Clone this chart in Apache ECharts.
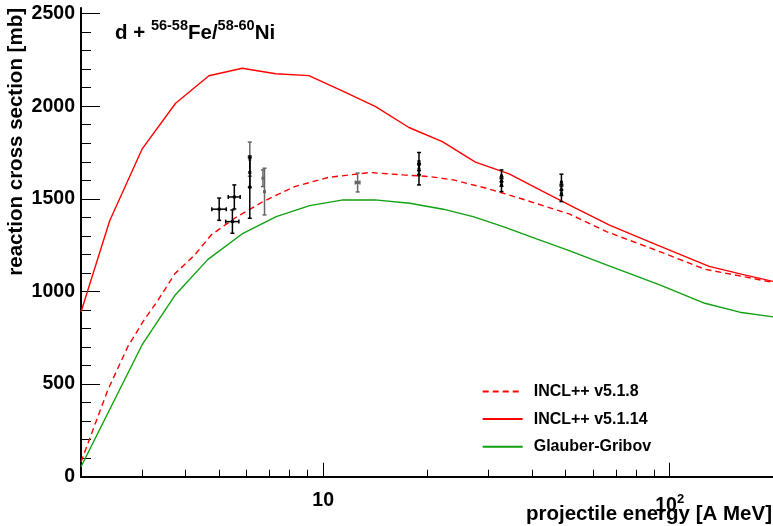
<!DOCTYPE html>
<html><head><meta charset="utf-8">
<script src="https://cdn.jsdelivr.net/npm/echarts@6/dist/echarts.min.js"></script>
<style>html,body{margin:0;padding:0;background:#fff}#c{width:773px;height:526px}</style>
</head><body><div id="c"></div>
<script>
const FONT = '"Liberation Sans", Arial, Helvetica, sans-serif';

// INCL++ v5.1.14 (solid red): projectile energy [A MeV], cross section [mb]
const incl14E  = [2.0, 2.42, 3.0, 3.75, 4.68, 5.84, 7.29, 9.09, 11.35, 14.17, 17.68, 22.07, 27.5, 34.4, 42.9, 53.5, 66.8, 83.4, 104, 130, 162, 200];
const incl14XS = [889, 1382, 1768, 2016, 2164, 2205, 2175, 2165, 2083, 1998, 1885, 1809, 1698, 1635, 1542, 1450, 1359, 1284, 1210, 1135, 1092, 1053];

// INCL++ v5.1.8 (dashed red)
const incl8E  = [2.0, 2.39, 2.73, 3.02, 3.34, 3.73, 4.26, 4.75, 5.55, 6.70, 8.27, 10.32, 13.64, 17.01, 20.32, 23.72, 29.61, 36.95, 51.5, 65.7, 93.6, 126.3, 200];
const incl8XS = [79, 468, 702, 837, 954, 1095, 1197, 1305, 1395, 1485, 1566, 1615, 1642, 1629, 1620, 1602, 1557, 1503, 1417, 1323, 1215, 1120, 1048];

// Glauber-Gribov (green)
const ggE  = [2.0, 3.0, 3.73, 4.65, 5.87, 7.32, 9.14, 11.42, 14.1, 17.79, 22.19, 27.09, 33.06, 41.28, 51.5, 65.7, 93.6, 126.3, 159.3, 200];
const ggXS = [54, 711, 978, 1173, 1314, 1404, 1463, 1494, 1494, 1476, 1444, 1404, 1350, 1284, 1219, 1143, 1035, 936, 888, 862];

// Experimental data (black)
const expBlackE     = [5.01, 5.54, 5.47, 6.14, 6.14, 18.9, 18.9, 18.9, 32.7, 32.7, 32.7, 48.7, 48.7, 48.7];
const expBlackXS    = [1444, 1510, 1377, 1642, 1563, 1701, 1660, 1629, 1624, 1593, 1574, 1590, 1548, 1527];
const expBlackEErr  = [0.24, 0.22, 0.24, 0, 0, 0, 0, 0, 0, 0, 0, 0, 0, 0];
const expBlackXSErr = [60, 65, 63, 80, 168, 49, 30, 54, 32, 25, 35, 43, 30, 42];

// Experimental data (grey)
const expGreyE     = [6.14, 6.70, 6.77, 12.57];
const expGreyXS    = [1714, 1611, 1539, 1588];
const expGreyEErr  = [0, 0, 0, 0.19];
const expGreyXSErr = [92, 45, 126, 51];

// Axis ticks
const yMajorTicks = [0, 500, 1000, 1500, 2000, 2500];
const yMinorTicks = [100,200,300,400,600,700,800,900,1100,1200,1300,1400,1600,1700,1800,1900,2100,2200,2300,2400];
const xMajorTicks = [10, 100];
const xMinorTicks = [3,4,5,6,7,8,9,20,30,40,50,60,70,80,90];

const legendNames = ['INCL++ v5.1.8', 'INCL++ v5.1.14', 'Glauber-Gribov'];

function zip(a, b) { return a.map((v, i) => [v, b[i]]); }
function zip4(a, b, c, d) { return a.map((v, i) => [v, b[i], c[i], d[i]]); }

function errRender(params, api) {
  const e = api.value(0), v = api.value(1), de = api.value(2), dv = api.value(3);
  const c = api.coord([e, v]);
  const col = api.visual('color');
  const st = { stroke: col, lineWidth: 1.5 };
  const ch = [];
  if (dv > 0) {
    const t = api.coord([e, v + dv]), b = api.coord([e, v - dv]);
    ch.push({ type: 'line', shape: { x1: c[0], y1: t[1], x2: c[0], y2: b[1] }, style: st });
    ch.push({ type: 'line', shape: { x1: c[0] - 2, y1: t[1], x2: c[0] + 2, y2: t[1] }, style: st });
    ch.push({ type: 'line', shape: { x1: c[0] - 2, y1: b[1], x2: c[0] + 2, y2: b[1] }, style: st });
  }
  if (de > 0) {
    const l = api.coord([e - de, v]), r = api.coord([e + de, v]);
    ch.push({ type: 'line', shape: { x1: l[0], y1: c[1], x2: r[0], y2: c[1] }, style: st });
    ch.push({ type: 'line', shape: { x1: l[0], y1: c[1] - 2, x2: l[0], y2: c[1] + 2 }, style: st });
    ch.push({ type: 'line', shape: { x1: r[0], y1: c[1] - 2, x2: r[0], y2: c[1] + 2 }, style: st });
  }
  ch.push({ type: 'rect', shape: { x: c[0] - 1.5, y: c[1] - 1.5, width: 3, height: 3 }, style: { fill: col } });
  return { type: 'group', children: ch };
}

const chart = echarts.init(document.getElementById('c'), null, { renderer: 'canvas' });
const labelBase = { fontFamily: FONT, fontWeight: 'bold', color: '#000' };

chart.setOption({
  animation: false,
  backgroundColor: '#fff',
  grid: { left: 81, right: -1, top: 8, bottom: 49.3, containLabel: false, outerBoundsMode: 'none' },
  title: {
    left: 115, top: 18, padding: 0,
    text: '{m|d + }{s|56-58}{m|Fe/}{s|58-60}{m|Ni}',
    textStyle: {
      rich: {
        m: Object.assign({ fontSize: 20.5, lineHeight: 26, verticalAlign: 'bottom' }, labelBase),
        s: Object.assign({ fontSize: 14.5, lineHeight: 13, verticalAlign: 'top' }, labelBase)
      }
    }
  },
  legend: {
    orient: 'vertical', left: 481.7, top: 383.5, padding: 0,
    itemWidth: 40, itemHeight: 14, itemGap: 11.6,
    data: legendNames,
    itemStyle: { opacity: 0 },
    textStyle: Object.assign({ fontSize: 16, padding: [0, 0, 0, 6] }, labelBase)
  },
  xAxis: [
    {
      type: 'log', logBase: 10, min: 2, max: 200, position: 'bottom',
      axisLine: { show: true, lineStyle: { color: '#000', width: 2 } },
      axisTick: { show: true, inside: true, length: 14, customValues: xMajorTicks, lineStyle: { color: '#000', width: 1 } },
      axisLabel: Object.assign({
        customValues: xMajorTicks, margin: 16, fontSize: 19.5, lineHeight: 16,
        formatter: function (v) { return Math.round(v) === 100 ? '{n|10}{s|2}' : '{p|10}'; },
        rich: {
          p: Object.assign({ fontSize: 19.5, lineHeight: 16 }, labelBase),
          n: Object.assign({ fontSize: 19.5, lineHeight: 22.5, verticalAlign: 'bottom' }, labelBase),
          s: Object.assign({ fontSize: 13, lineHeight: 13, verticalAlign: 'top' }, labelBase)
        }
      }, labelBase),
      splitLine: { show: false }, minorTick: { show: false }
    },
    {
      type: 'log', logBase: 10, min: 2, max: 200, position: 'bottom',
      axisLine: { show: false },
      axisTick: { show: true, inside: true, length: 7, customValues: xMinorTicks, lineStyle: { color: '#000', width: 1 } },
      axisLabel: { show: false }, splitLine: { show: false }
    }
  ],
  yAxis: [
    {
      type: 'value', min: 0, max: 2530, position: 'left',
      axisLine: { show: true, lineStyle: { color: '#000', width: 2 } },
      axisTick: { show: true, inside: true, length: 19, customValues: yMajorTicks, lineStyle: { color: '#000', width: 1 } },
      axisLabel: Object.assign({ customValues: yMajorTicks, margin: 6, fontSize: 19.5,
        formatter: function (v) { return String(Math.round(v)); } }, labelBase),
      splitLine: { show: false }
    },
    {
      type: 'value', min: 0, max: 2530, position: 'left',
      axisLine: { show: false },
      axisTick: { show: true, inside: true, length: 10, customValues: yMinorTicks, lineStyle: { color: '#000', width: 1 } },
      axisLabel: { show: false }, splitLine: { show: false }
    }
  ],
  graphic: [
    {
      type: 'text', x: 772, y: 514,
      style: { text: 'projectile energy [A MeV]', fontSize: 20.5, align: 'right', verticalAlign: 'middle', fill: '#000', fontFamily: FONT, fontWeight: 'bold' }
    },
    {
      type: 'text', x: 16, y: 8, rotation: Math.PI / 2,
      style: { text: 'reaction cross section [mb]', fontSize: 20.5, align: 'right', verticalAlign: 'middle', fill: '#000', fontFamily: FONT, fontWeight: 'bold' }
    }
  ],
  series: [
    {
      name: 'INCL++ v5.1.8', type: 'line', xAxisIndex: 0, yAxisIndex: 0,
      data: zip(incl8E, incl8XS), symbol: 'none', showSymbol: false,
      lineStyle: { color: '#ff0000', width: 1.4, type: [6, 4] }, itemStyle: { color: '#ff0000' }
    },
    {
      name: 'INCL++ v5.1.14', type: 'line', xAxisIndex: 0, yAxisIndex: 0,
      data: zip(incl14E, incl14XS), symbol: 'none', showSymbol: false,
      lineStyle: { color: '#ff0000', width: 1.4 }, itemStyle: { color: '#ff0000' }
    },
    {
      name: 'Glauber-Gribov', type: 'line', xAxisIndex: 0, yAxisIndex: 0,
      data: zip(ggE, ggXS), symbol: 'none', showSymbol: false,
      lineStyle: { color: '#11a011', width: 1.4 }, itemStyle: { color: '#11a011' }
    },
    {
      name: 'exp-grey', type: 'custom', xAxisIndex: 0, yAxisIndex: 0, z: 5,
      data: zip4(expGreyE, expGreyXS, expGreyEErr, expGreyXSErr),
      encode: { x: 0, y: 1 }, renderItem: errRender, itemStyle: { color: '#666666' }
    },
    {
      name: 'exp-black', type: 'custom', xAxisIndex: 0, yAxisIndex: 0, z: 6,
      data: zip4(expBlackE, expBlackXS, expBlackEErr, expBlackXSErr),
      encode: { x: 0, y: 1 }, renderItem: errRender, itemStyle: { color: '#000000' }
    }
  ]
});
</script>
</body></html>
